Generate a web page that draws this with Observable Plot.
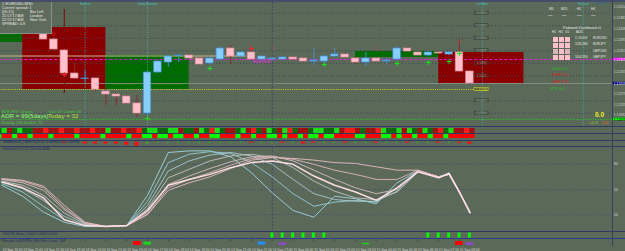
<!DOCTYPE html>
<html><head><meta charset="utf-8">
<script src="https://cdn.jsdelivr.net/npm/d3@7"></script>
<script src="https://cdn.jsdelivr.net/npm/@observablehq/plot@0.6"></script>
<style>
html,body{margin:0;padding:0;background:#5b6958;}
#chart{position:relative;width:625px;height:251px;overflow:hidden;background:#5b6958;font-family:"Liberation Sans",Arial,sans-serif;}
.pane{position:absolute;left:0;width:625px;}
.sep{position:absolute;left:0;width:625px;background:#2f3b66;}
.t{position:absolute;white-space:nowrap;line-height:1;}
svg{display:block}
</style></head><body><div id="chart"></div>
<script>
// ================= DATA =================
// candles (bar index 0..41), prices
const open  = [1.12419,1.12395,1.12351,1.12259,1.12237,1.12239,1.12187,1.12175,1.12167,1.12139,1.12099,1.12263,1.12303,1.12329,1.12331,1.12319,1.12299,1.12315,1.12359,1.12327,1.12343,1.12315,1.12315,1.12315,1.12323,1.12319,1.12307,1.12307,1.12327,1.12335,1.12319,1.12303,1.12319,1.12307,1.12315,1.12359,1.12343,1.12331,1.12343,1.12335,1.12343,1.12267];
const high  = [1.12427,1.12403,1.12359,1.12299,1.12271,1.12243,1.12195,1.12179,1.12171,1.12171,1.12267,1.12311,1.12331,1.12335,1.12335,1.12323,1.12323,1.12367,1.12371,1.12347,1.12347,1.12331,1.12323,1.12327,1.12327,1.12323,1.12359,1.12331,1.12359,1.12339,1.12323,1.12343,1.12323,1.12319,1.12367,1.12363,1.12347,1.12347,1.12347,1.12347,1.12395,1.12271];
const low   = [1.12391,1.12351,1.12243,1.12235,1.12223,1.12187,1.12131,1.12131,1.12135,1.12083,1.12083,1.12259,1.12283,1.12303,1.12315,1.12291,1.12295,1.12311,1.12295,1.12323,1.12311,1.12311,1.12311,1.12311,1.12311,1.12303,1.12291,1.12303,1.12323,1.12319,1.12295,1.12287,1.12303,1.12291,1.12311,1.12343,1.12327,1.12327,1.12335,1.12331,1.12263,1.12211];
const close = [1.12395,1.12355,1.12259,1.12239,1.12239,1.12195,1.12175,1.12167,1.12139,1.12099,1.12263,1.12307,1.12327,1.12331,1.12319,1.12295,1.12319,1.12359,1.12327,1.12343,1.12315,1.12327,1.12319,1.12323,1.12315,1.12307,1.12311,1.12327,1.12335,1.12323,1.12303,1.12319,1.12307,1.12311,1.12359,1.12347,1.12331,1.12343,1.12339,1.12343,1.12267,1.12219];

// supply / demand zones
const zoneType   = ["buy","sell","buy","buy","sell"];
const zoneFrom   = [-4.2,-2,6,30,38];
const zoneTo     = [-2,6,14,38,46.2];
const zoneTop    = [1.12419,1.12443,1.12331,1.12347,1.12343];
const zoneBottom = [1.12383,1.12195,1.12195,1.12323,1.12219];

// horizontal levels
const levelName  = ["pivot","open","bid","target","support"];
const levelPrice = [1.12329,1.12315,1.12219,1.12195,1.12075];
const levelFrom  = [-4.2,-4.2,-4.2,-4.2,-4.2];
const levelTo    = [19.5,54.712,54.712,41.4,54.712];
const gridLevels = [1.1250,1.1245,1.1240,1.1235,1.1230,1.1225,1.1215,1.1210];
const axisTicks  = [1.12524,1.12481,1.12438,1.12395,1.12351,1.12265,1.12179,1.12135,1.12092];
const priceTagPrice = [1.12315,1.12219,1.12075];
const priceTagKind  = ["open","bid","support"];

// vertical separators
const vlineBar   = [4,10,22,42.2,51.9];
const vlineKind  = ["session","session","day","session","session"];
const vlineLabel = ["Neutral","Daily Neutral","","London","Neutral"];
const spikeBar = [2], spikeHigh = [1.12515], spikeLow = [1.12179];

// signals
const markerBar   = [1,2,10,16,20,22,27,32,34,37,39,40,40];
const markerPrice = [1.12419,1.12255,1.12079,1.12279,1.12359,1.12365,1.12295,1.12361,1.12299,1.12303,1.12307,1.12387,1.12339];
const markerKind  = ["sellSquare","sellPlus","buyPlus","buyPlus","sellPlus","sellArrow","buyPlus","sellArrow","buyPlus","buyPlus","buyPlus","upArrow","buyPlus"];
const noteBar = [21], notePrice = [1.12307], noteText = ["BuyHold"];

// heat strip rows (bars -4..41, two cells per bar)
const heatRow1 = ["gG","rg","Gg","gr","rR","rr","Rr","rR","rr","Rr","rG","rr","Rr","rR","gG","Gg","gG","Gr","gg","rG","gR","Gg","rr","gG","rR","gr","Gg","rG","Rg","rr","gG","Gg","gG","rR","Rr","gr","rR","Gg","gG","rG","gr","Gg","rR","gG","rr","Rr"];
const heatRow2 = ["GR","RG","RR","GR","RR","GR","RR","RG","RR","RR","GR","RR","RG","RR","GG","RG","GR","GG","RR","GR","RG","GR","RR","GR","RG","RR","GG","RG","RR","GR","GG","RG","GR","RR","RG","GR","RR","GG","RG","RR","GR","RG","RR","GR","RR","RR"];
// histogram strip (bars -4..41)
const histValues = [0,0,0,0, 0,0,-1,0,-2,-2,-2,-2,-3,-4,2,1,1,1,1,1,1,1,1,1,-1,1,1,-1,1,-2,-1,1,1,-1,1,1,-1,1,1,-1,1,1,-1,1,-1,-2];

// oscillator fan
const oscBar = [-4,-2,0,2,4,6,8,10,12,14,16,18,20,22,24,26,28,30,32,34,36,38,39,40,41];
const oscF  = [55,42,23,11,6,6,7,43,94,96,96,89,70,46,25,17,42,39,33,58,72,64,70,47,23];
const oscL1 = [57,47,30,14,7,6,7,36,82,92,95,93,82,65,45,30,35,37,35,52,72,65,69,47,24];
const oscL2 = [59,51,37,18,8,6,7,31,72,84,91,94,90,80,62,45,38,36,36,48,71,65,69,47,24];
const oscL3 = [60,55,43,22,9,6,7,27,64,74,84,90,92,88,76,60,48,40,38,47,71,65,68,46,24];
const oscL4 = [62,58,49,26,10,6,7,23,56,66,75,83,89,90,84,73,62,52,45,50,72,65,68,46,23];
const oscL5 = [62,60,52,28,10,6,7,21,52,62,70,79,87,89,86,80,73,68,62,62,73,65,68,46,23];
const oscS  = [63,61,54,31,11,6,7,20,49,58,65,75,85,88,87,85,82,81,77,73,73,65,68,46,23];
const oscMain = [59,52,40,14,7,6,7,25,55,62,68,76,82,84,80,66,55,47,37,52,71,64,69,47,22];
const oscLevels = [20,50,80];

// news / session strips
const newsBar = [22,23,24,25,26,27,37,38,39,40,41];
const sessBar  = [9,10,21,23,31,40,41];
const sessKind = ["sell","buy","info","alert","buyMinor","sell","alert"];

// time axis
const timeBar = [-4,-2,0,2,4,6,8,10,12,14,16,18,20,22,24,26,28,30,32,34,36,38,40];
const timeLabels = ["14 Sep 10:00","14 Sep 11:00","14 Sep 12:00","14 Sep 13:00","14 Sep 14:00","14 Sep 15:00","14 Sep 16:00","14 Sep 17:00","14 Sep 18:00","14 Sep 19:00","14 Sep 20:00","14 Sep 21:00","14 Sep 22:00","14 Sep 23:00","15 Sep 00:00","15 Sep 01:00","15 Sep 02:00","15 Sep 03:00","15 Sep 04:00","15 Sep 05:00","15 Sep 06:00","15 Sep 07:00","15 Sep 08:00"];

// dashboard
const dashTF = ["H1","H4","D1"];
const dashSym = ["EURUSD","EURJPY","GBPUSD","GBPJPY"];
const dashState = [["bear","bear","bear"],["bear","bear","bear"],["mixed","bear","mixed"],["bear","bear","bear"]];
const dashValue = ["1.11000","128.280","","104.590"];
const dashPeriods = ["M5","M15","H1","H4"];

// ================= BUILD =================
const chart = document.getElementById("chart");
const XDOM = [-4.135, 54.712];
const FONT = "Liberation Sans, Arial, sans-serif";
function place(svg, top){ const d=document.createElement("div"); d.className="pane"; d.style.top=top+"px"; d.appendChild(svg); chart.appendChild(d); return d;}
function base(h, opts){
  return Plot.plot(Object.assign({width:625,height:h,marginLeft:0,marginRight:13,marginTop:0,marginBottom:0,
    x:{domain:XDOM,axis:null},
    style:{background:"transparent",overflow:"visible",fontFamily:FONT,fontSize:"4px",color:"#d8dcd8"}}, opts));
}
function T(x,y,s,c,fs,extra){const d=document.createElement("div");d.className="t";d.style.cssText=`left:${x}px;top:${y}px;color:${c};font-size:${fs}px;${extra||""}`;d.textContent=s;chart.appendChild(d);}
function sep(y,h,c){const d=document.createElement("div");d.className="sep";d.style.top=y+"px";d.style.height=h+"px";if(c)d.style.background=c;chart.appendChild(d);}

const candles = open.map((o,i)=>({b:i,o,h:high[i],l:low[i],c:close[i]}));
const zones = zoneType.map((t,i)=>({type:t,from:zoneFrom[i],to:zoneTo[i],top:zoneTop[i],bottom:zoneBottom[i]}));
const levels = levelName.map((n,i)=>({name:n,price:levelPrice[i],from:levelFrom[i],to:levelTo[i]}));
const vlines = vlineBar.map((b,i)=>({b,kind:vlineKind[i],label:vlineLabel[i]}));
const markers = markerBar.map((b,i)=>({b,p:markerPrice[i],kind:markerKind[i]}));
const tags = priceTagPrice.map((p,i)=>({p,kind:priceTagKind[i]}));
const spikes = spikeBar.map((b,i)=>({b,h:spikeHigh[i],l:spikeLow[i]}));
const notes = noteBar.map((b,i)=>({b,p:notePrice[i],text:noteText[i]}));

const ZONE_COL = {buy:"#006b00",sell:"#8a0000"};
const LV = {pivot:{stroke:"#c9b58e",w:1,dash:null},open:{stroke:"#e41ee4",w:0.9,dash:"3,2"},bid:{stroke:"#8d9690",w:0.8,dash:null},target:{stroke:"#d4d41e",w:1,dash:"1,1.2"},support:{stroke:"#1ec81e",w:1,dash:"1,1.2"}};
const TAG = {open:["#ff00ff","#ffffff"],bid:["#000080","#ffffff"],support:["#00ff00","#000000"]};
const bull = d=>d.c>=d.o;

const levelMarks = Object.keys(LV).map(k=>Plot.ruleY(levels.filter(d=>d.name===k),{y:"price",x1:"from",x2:"to",stroke:LV[k].stroke,strokeWidth:LV[k].w,strokeDasharray:LV[k].dash||undefined}));

const main = base(124,{
  y:{domain:[1.12047,1.12543],axis:null},
  marks:[
    Plot.rect(zones,{x1:"from",x2:"to",y1:"bottom",y2:"top",fill:d=>ZONE_COL[d.type]}),
    Plot.ruleY(gridLevels,{stroke:"#3a4550",strokeDasharray:"1,2",strokeWidth:1}),
    ...levelMarks,
    Plot.ruleX(vlines.filter(d=>d.kind==="session"),{x:"b",stroke:"#3fb0b0",strokeDasharray:"1,1.5",strokeWidth:0.9}),
    Plot.ruleX(vlines.filter(d=>d.kind==="day"),{x:"b",stroke:"#39496e",strokeDasharray:"2,1.5",strokeWidth:1}),
    Plot.ruleX(spikes,{x:"b",y1:"l",y2:"h",stroke:"#7a0a0a",strokeWidth:1}),
    Plot.ruleX(candles,{x:"b",y1:"l",y2:"h",stroke:d=>bull(d)?"#4a8cc6":"#8e2a30",strokeWidth:1}),
    Plot.rect(candles,{x1:d=>d.b-0.36,x2:d=>d.b+0.36,y1:"o",y2:"c",fill:d=>bull(d)?"#87cefa":"#ffc0cb",stroke:d=>bull(d)?"#3f8fd6":"#d98c98",strokeWidth:0.7}),
    Plot.rect(gridLevels,{x1:()=>41.45,x2:()=>42.8,y1:d=>d-0.00006,y2:d=>d+0.00006,fill:"none",stroke:"#363c36",strokeWidth:0.6}),
    Plot.text(gridLevels,{x:()=>42.12,y:d=>d,text:d=>d.toFixed(4),fontSize:3.2,fill:"#8e988e"}),
    Plot.rect(levels.filter(d=>d.name==="target"),{x1:()=>41.45,x2:()=>42.8,y1:d=>d.price-0.00006,y2:d=>d.price+0.00006,fill:"#4e5a3c",stroke:"#d4d41e",strokeWidth:0.6}),
    Plot.text(levels.filter(d=>d.name==="target"),{x:()=>42.12,y:"price",text:d=>d.price.toFixed(5),fontSize:3.2,fill:"#e8e820"}),
    Plot.dot(markers.filter(d=>d.kind==="buyPlus"),{x:"b",y:"p",symbol:"plus",r:1.7,stroke:"#20e020",strokeWidth:1}),
    Plot.dot(markers.filter(d=>d.kind==="sellPlus"),{x:"b",y:"p",symbol:"plus",r:1.7,stroke:"#ff2020",strokeWidth:1}),
    Plot.dot(markers.filter(d=>d.kind==="sellSquare"),{x:"b",y:"p",symbol:"square",r:1.4,stroke:"#c01010",fill:"none",strokeWidth:0.8}),
    Plot.text(markers.filter(d=>d.kind==="sellArrow"),{x:"b",y:"p",text:()=>"↓",fill:"#ff1a1a",fontSize:6,fontWeight:"bold"}),
    Plot.text(markers.filter(d=>d.kind==="upArrow"),{x:"b",y:"p",text:()=>"↑",fill:"#ff1a1a",fontSize:7,fontWeight:"bold"}),
    Plot.text(notes,{x:"b",y:"p",text:"text",fill:"#c23cc2",fontSize:4.5,fontWeight:"bold"}),
    Plot.text(vlines.filter(d=>d.label),{x:"b",text:"label",frameAnchor:"top",lineAnchor:"top",dy:0,fontSize:3.4,fill:"#3cc4c4"}),
    Plot.text(axisTicks,{y:d=>d,text:d=>d.toFixed(5),frameAnchor:"right",textAnchor:"start",dx:1.3,fontSize:3.3,fill:"#d4d8d4"}),
    Plot.rect(tags,{x1:()=>54.76,x2:()=>56.3,y1:d=>d.p-0.00005,y2:d=>d.p+0.00005,fill:d=>TAG[d.kind][0]}),
    Plot.text(tags,{y:"p",text:d=>d.p.toFixed(5),frameAnchor:"right",textAnchor:"start",dx:1.3,fontSize:3.3,fill:d=>TAG[d.kind][1]})
  ]
});
place(main,2);

// heat strip
const heatCells=[];
[heatRow1,heatRow2].forEach((row,r)=>row.forEach((pair,i)=>{const b=i-4;[0,1].forEach(k=>heatCells.push({row:"r"+(r+1),x1:b-0.5+k*0.5,x2:b+k*0.5,code:pair[k]}));}));
const HEAT1={R:"#ff1a1a",r:"#a21010",G:"#18e018",g:"#0b6b0b"};
const HEAT2={R:"#ff0000",G:"#00ff00"};
const heat = base(12.4,{y:{domain:["r1","r2"],axis:null,padding:0.08},
  marks:[Plot.barX(heatCells,{x1:"x1",x2:"x2",y:"row",fill:d=>d.row==="r1"?HEAT1[d.code]:HEAT2[d.code]})]});
place(heat,127.3);

// histogram strip
const hist = histValues.map((v,i)=>({b:i-4,v}));
const histPlot = base(5,{y:{domain:[5,0],axis:null},
  marks:[Plot.rect(hist.filter(d=>d.v!==0),{x1:d=>d.b-(d.v<0?0.2:0.07),x2:d=>d.b+(d.v<0?0.2:0.07),y1:()=>0.6,y2:d=>0.6+Math.abs(d.v),fill:d=>d.v<0?"#ff0a0a":"#10e010"})]});
place(histPlot,141);

// oscillator
const FAN=[[oscF,"#9fd6e2",0.9],[oscL1,"#95ccd6",0.9],[oscL2,"#a9c9cf",0.9],[oscL3,"#c2c4c6",0.9],[oscL4,"#d6bcbf",0.9],[oscL5,"#e0b6bd",0.9],[oscS,"#e9bcc4",0.9],[oscMain,"#fbdce2",1.5]];
const osc = base(84,{y:{domain:[0,100],axis:null},
  marks:[
    Plot.ruleY(oscLevels,{stroke:"#3a4a78",strokeDasharray:"1,2",strokeWidth:1}),
    Plot.ruleX(vlines.filter(d=>d.kind==="day"),{x:"b",stroke:"#39496e",strokeDasharray:"2,1.5",strokeWidth:1}),
    ...FAN.map(([vals,col,w])=>Plot.line(oscBar.map((b,i)=>({b,v:vals[i]})),{x:"b",y:"v",stroke:col,strokeWidth:w})),
    Plot.text(oscLevels,{y:d=>d,text:d=>String(d),frameAnchor:"right",textAnchor:"start",dx:1.5,fontSize:3.5,fill:"#d4d8d4"})
  ]});
place(osc,147);

// news strip
const news = base(6,{y:{domain:[6,0],axis:null},
  marks:[Plot.rect(newsBar,{x1:d=>d-0.14,x2:d=>d+0.14,y1:()=>0.6,y2:()=>5.6,fill:"#00ff00"})]});
place(news,232);

// session strip + time axis
const SESS={sell:["#ff0000",2,6],buy:["#16d816",2.7,5.6],info:["#1e90ff",2.7,5.6],alert:["#a040f0",3.6,5.6],buyMinor:["#16d816",3.8,5.2]};
const sess = sessBar.map((b,i)=>({b,kind:sessKind[i]}));
const times = timeBar.map((b,i)=>({b,label:timeLabels[i]}));
const sessPlot = base(12.2,{marginBottom:5.2,y:{domain:[7,0],axis:null},
  marks:[
    Plot.rect(sess,{x1:d=>d.b-0.36,x2:d=>d.b+0.36,y1:d=>SESS[d.kind][1],y2:d=>SESS[d.kind][2],fill:d=>SESS[d.kind][0]}),
    Plot.ruleX(times,{x:"b",y1:()=>0.6,y2:()=>1.6,stroke:"#1c1c1c",strokeWidth:0.8}),
    Plot.text(times,{x:"b",text:"label",frameAnchor:"bottom",textAnchor:"start",lineAnchor:"bottom",dy:4.9,dx:0.3,fontSize:3.4,fill:"#d6d8d6"})
  ]});
place(sessPlot,239);

// dashboard cells
const dashCells=[];dashSym.forEach((s,r)=>dashTF.forEach((tf,c)=>dashCells.push({tf,s,state:dashState[r][c]})));
const dash = Plot.plot({width:19,height:26,margin:0,x:{domain:dashTF,axis:null,padding:0.14},y:{domain:dashSym,axis:null,padding:0.14},
  style:{background:"transparent",overflow:"visible"},
  marks:[Plot.cell(dashCells,{x:"tf",y:"s",fill:d=>d.state==="bear"?"#ffc0cb":"#dcb4bc"})]});
const dd=document.createElement("div");dd.style.cssText="position:absolute;left:551.5px;top:35.5px;";dd.appendChild(dash);chart.appendChild(dd);

// separators & frame
sep(0,1.5,"#444e6c");
sep(125.8,1.6);sep(132.7,1.2);sep(139.5,1.3);sep(145.9,1.2);sep(230.8,1.2);sep(237.9,1.4,"#2b3b8e");
const ax=document.createElement("div");ax.style.cssText="position:absolute;left:611.5px;top:0;width:1px;height:246px;background:#34405c";chart.appendChild(ax);

// info box
const box=document.createElement("div");box.style.cssText="position:absolute;left:0;top:1.5px;width:51px;height:31px;border-right:1px solid #87918a;border-bottom:1px solid #87918a;background:#5f6b5c";chart.appendChild(box);
const W="#e6e8e6";
T(2,2.3,"≡ EURUSD,M30",W,4.2);
T(2,6.6,"Current spread: 1",W,3.8);
T(2,10.6,"[06:15]",W,3.8);T(30,10.6,"Bar Left",W,3.8);
T(2,14.6,"21:57:17 AM",W,3.8);T(30,14.6,"London",W,3.8);
T(2,18.6,"22:57:17 AM",W,3.8);T(30,18.6,"New York",W,3.8);
T(2,22.6,"SPREAD: 0.8",W,3.8);

// bottom-left stats
T(2,109.6,"ATR (H1): 14 pips","#3cd23c",3.9);T(49,109.6,"Last 21  Current 16","#3cd23c",3.9);
T(1,113.4,"ADR = 99(5days)","#84ff6e",6.2);T(48,113.4,"Today = 32","#b4e23c",6.2);
T(2,120.8,"RunUp: 201   RunDn: 73","#3cd23c",3.9);

// pane titles
const N="#1d2b5e";
T(3,141.3,"SIMAGSL40_Label 21(15:0)   -0.0808(14.0)  0.000362",N,3.3);
T(3,148,"Stoch(14,3,3) 21.7000 46.4846",N,3.4);
T(3,232.6,"HUCH9_News 1.0000 1.0000 0.0000",N,3.3);
T(3,239.6,"Session Lvl(4 DPBs)   Mkt Over Count: 106",N,3.3);

// dashboard texts
T(593,1.8,"Copyright ©","#2c6a8a",3.3);
dashPeriods.forEach((s,i)=>T([549,561,577,591][i],7.8,s,W,3.2));
[548,562,577,591].forEach(x=>T(x,14.2,"—",W,4.5));
T(563,26.5,"Podsmek Dashboard v1",W,3.6);
dashTF.forEach((s,i)=>T(552+i*6.6,31,s,W,3.2));T(576,31,"ADD",W,3.2);
dashValue.forEach((v,i)=>{if(v)T(575,[36.6,43.2,49.8,56.4][i],v,W,3.5);});
dashSym.forEach((s,i)=>T(593,[36.6,43.2,49.8,56.4][i],s,W,3.3));
T(552,66.5,"USD 0.0","#1ec81e",4.2);
T(552,73.3,"EUR 1.0","#e01818",4.2);
T(552,79.8,"GBP 1.8","#e01818",4.2);
T(550,86.5,"JPY 0.0","#1ec81e",4.2);
T(595,111.5,"0.0","#f0f020",6.5,"font-weight:bold");
T(589,120.6,"+0.9","#7cd22c",4.4);T(602,120.6,"0.0","#e8622a",4.4);
</script></body></html>
